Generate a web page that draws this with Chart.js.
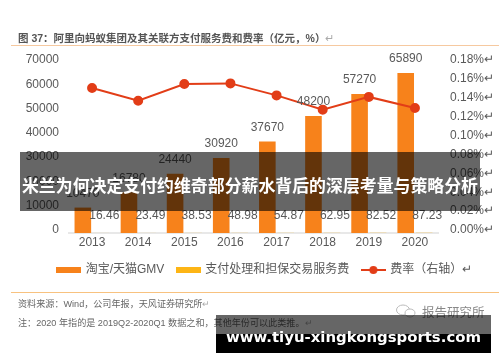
<!DOCTYPE html>
<html>
<head>
<meta charset="utf-8">
<script src="https://cdn.jsdelivr.net/npm/chart.js@4"></script>
<style>
  html, body { margin: 0; padding: 0; background: #fff; }
  #page { position: relative; width: 500px; height: 362px; overflow: hidden;
    font-family: "Liberation Sans", "Noto Sans CJK SC", sans-serif; }
  .txt { position: absolute; white-space: nowrap; transform: translateY(-50%); filter: blur(0.3px); }
  .rule { position: absolute; height: 1px; }
  .ret { color: #aaa; font-weight: normal; }
  #title { left: 18px; top: 37px; font-size: 10.5px; font-weight: bold; color: #555; }
  #source, #note { left: 18px; font-size: 9.1px; color: #666; }
  #source { top: 303px; }
  #note { top: 322px; }
  #wechat { left: 422px; top: 311px; font-size: 12.5px; color: #888; }
  #banner { position: absolute; left: 20px; top: 152px; width: 460px; height: 59px; background: rgba(0,0,0,.6);
    color: #fff; font: bold 16.9px "Noto Sans CJK SC", sans-serif; line-height: 66px; text-align: center; white-space: nowrap; }
  #siteTop { position: absolute; left: 216px; top: 315px; width: 275px; height: 19px; background: rgba(0,0,0,.6); }
  #siteBottom { position: absolute; left: 216px; top: 334px; width: 275px; height: 19px; background: #000; }
  #site { position: absolute; left: 216px; top: 315px; width: 275px; height: 38px; text-align: center;
    color: #fff; font: bold 14.9px "DejaVu Sans", sans-serif; line-height: 44px; white-space: nowrap; }
</style>
</head>
<body>
<div id="page">
  <canvas id="feeChart" width="500" height="362" style="position:absolute;left:0;top:0;filter:blur(0.4px)"></canvas>
  <div class="txt" id="title">图 37：阿里向蚂蚁集团及其关联方支付服务费和费率（亿元，%）<span class="ret">↵</span></div>
  <div class="rule" style="left:11px;top:45px;width:488px;background:#f6c9a0"></div>
  <div class="rule" style="left:11px;top:292px;width:488px;background:#f8c27f"></div>
  <div class="txt" id="source">资料来源：Wind，公司年报，天风证券研究所<span class="ret">↵</span></div>
  <div class="txt" id="note">注：2020 年指的是 2019Q2-2020Q1 数据之和，其他年份可以此类推。<span class="ret">↵</span></div>
  <svg style="position:absolute;left:395px;top:303px" width="22" height="16">
    <ellipse cx="8" cy="7" rx="6.5" ry="5" fill="none" stroke="#bbb"/>
    <ellipse cx="15" cy="10" rx="5" ry="4" fill="#fff" stroke="#bbb"/>
  </svg>
  <div class="txt" id="wechat">报告研究所</div>
  <div id="banner">米兰为何决定支付约维奇部分薪水背后的深层考量与策略分析</div>
  <div id="siteTop"></div>
  <div id="siteBottom"></div>
  <div id="site">www.tiyu-xingkongsports.com</div>
</div>
<script>
const years = ["2013", "2014", "2015", "2016", "2017", "2018", "2019", "2020"];
const gmv = [10470, 16780, 24440, 30920, 37670, 48200, 57270, 65890];
const fees = [16.46, 23.49, 38.53, 48.98, 54.87, 62.95, 82.52, 87.23];
const rates = [0.1535, 0.14, 0.1577, 0.1584, 0.1457, 0.1306, 0.1441, 0.1324];
const seriesNames = ["淘宝/天猫GMV", "支付处理和担保交易服务费", "费率（右轴）↵"];

const ORANGE = "#f7821b";
const YELLOW = "#fdb515";
const RED = "#e23d17";
const GRAY = "#595959";
const FONT = '"Liberation Sans", "Noto Sans CJK SC", sans-serif';

// legend swatches, drawn on small canvases so each item can have its own shape
function makeSwatch(color, isLine) {
  let c = document.createElement("canvas");
  c.width = 25;
  c.height = 10;
  let ctx = c.getContext("2d");
  ctx.fillStyle = color;
  if (isLine) {
    ctx.fillRect(0, 4, 25, 2);
    ctx.beginPath();
    ctx.arc(12.5, 5, 4, 0, Math.PI * 2);
    ctx.fill();
  } else {
    ctx.fillRect(0, 2, 25, 6);
  }
  return c;
}
const swatches = [makeSwatch(ORANGE), makeSwatch(YELLOW), makeSwatch(RED, true)];

// value labels above the bars
const barLabels = {
  id: "barLabels",
  afterLayout(chart) {
    // the legend sits a little right of the canvas centre
    chart.legend.left += 4;
    chart.legend.right += 4;
  },
  afterDatasetsDraw(chart) {
    let ctx = chart.ctx;
    ctx.save();
    ctx.font = "12px " + FONT;
    ctx.textAlign = "center";
    ctx.textBaseline = "middle";
    ctx.fillStyle = GRAY;
    chart.getDatasetMeta(0).data.forEach((bar, i) => {
      ctx.fillText(String(gmv[i]), bar.x, bar.y - 14);
    });
    chart.getDatasetMeta(1).data.forEach((bar, i) => {
      ctx.fillText(fees[i].toFixed(2), bar.x + 3, bar.y - 17);
    });
    ctx.restore();
  },
};

new Chart(document.getElementById("feeChart"), {
  type: "bar",
  data: {
    labels: years,
    datasets: [
      { label: seriesNames[0], data: gmv, backgroundColor: ORANGE, order: 1, yAxisID: "y" },
      { label: seriesNames[1], data: fees, backgroundColor: YELLOW, order: 1, yAxisID: "y" },
      {
        type: "line",
        label: seriesNames[2],
        data: rates,
        borderColor: RED,
        backgroundColor: RED,
        borderWidth: 2,
        pointRadius: 4,
        tension: 0,
        order: 0,
        yAxisID: "y2",
      },
    ],
  },
  options: {
    responsive: false,
    animation: false,
    layout: { padding: { left: 22, top: 63, bottom: 76, right: 0 } },
    datasets: { bar: { categoryPercentage: 0.8, barPercentage: 0.9 } },
    scales: {
      x: {
        grid: { display: false, drawTicks: false },
        border: { color: "#e8e8e8", width: 2 },
        ticks: { color: GRAY, font: { size: 12, family: FONT }, padding: 2, maxRotation: 0 },
        afterFit(s) { s.height = 18; },
      },
      y: {
        min: 0,
        max: 70000,
        grid: { display: false, drawTicks: false },
        border: { display: false },
        ticks: {
          stepSize: 10000,
          color: GRAY,
          font: { size: 12, family: FONT },
          padding: 10,
          labelOffset: -3,
          callback: (v) => String(v),
        },
        afterFit(s) { s.width = 47; },
      },
      y2: {
        position: "right",
        min: 0,
        max: 0.18,
        grid: { display: false, drawTicks: false },
        border: { display: false },
        ticks: {
          stepSize: 0.02,
          color: GRAY,
          font: { size: 12, family: FONT },
          padding: 12,
          labelOffset: -3,
          callback: (v) => v.toFixed(2) + "%↵",
        },
        afterFit(s) { s.width = 62; },
      },
    },
    plugins: {
      tooltip: { enabled: false },
      legend: {
        position: "bottom",
        labels: {
          usePointStyle: true,
          pointStyleWidth: 22,
          padding: 13,
          color: GRAY,
          font: { size: 12, family: FONT },
          sort: (a, b) => a.datasetIndex - b.datasetIndex,
          generateLabels(chart) {
            return Chart.defaults.plugins.legend.labels
              .generateLabels(chart)
              .map((item) => ({ ...item, pointStyle: swatches[item.datasetIndex] }));
          },
        },
      },
    },
  },
  plugins: [barLabels],
});
</script>
</body>
</html>
